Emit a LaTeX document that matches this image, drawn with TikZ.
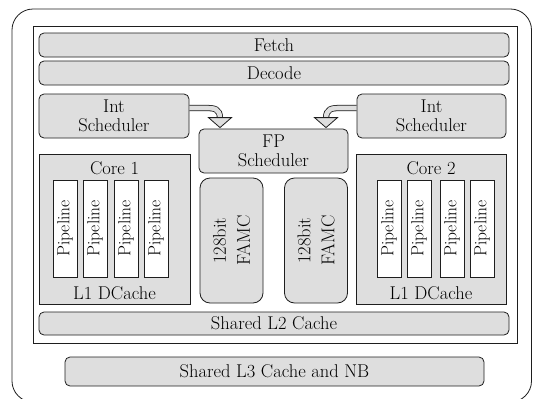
\documentclass[tikz,border=0pt]{standalone}
\usepackage{fontspec}
\setmainfont{Latin Modern Roman}
\usetikzlibrary{calc}
\definecolor{boxgray}{RGB}{222,222,222}
\definecolor{edge}{RGB}{30,30,30}
\tikzset{
  blk/.style={draw=edge, line width=0.8pt, fill=boxgray, rounded corners=5pt, inner sep=0pt,
    font=\fontsize{18.5}{19}\selectfont, align=center},
  corebox/.style={draw=edge, line width=0.8pt, fill=boxgray, inner sep=0pt},
  pipe/.style={draw=edge, line width=0.8pt, fill=white, inner sep=0pt, minimum width=24pt, minimum height=97pt},
  pipetxt/.style={rotate=90, font=\fontsize{17.5}{19}\selectfont, inner sep=0pt},
  famc/.style={blk, rounded corners=10pt, minimum width=63pt, minimum height=125pt},
  lbl/.style={font=\fontsize{18.5}{24}\selectfont, inner sep=0pt},
  shaft/.style={draw=edge, line width=0.8pt, double=boxgray, double distance=4.6pt},
  head/.style={draw=edge, line width=0.8pt, fill=boxgray, line join=miter}
}
\begin{document}
\begin{tikzpicture}[x=1pt, y=-1pt]
\useasboundingbox (0,0) rectangle (533,399);
\clip (0,0) rectangle (533,399);
% outer rounded frame
\draw[edge, line width=0.8pt, rounded corners=21pt] (12,9) rectangle (531.5,402);
% inner frame
\node[draw=edge, line width=0.8pt, fill=white, minimum width=484pt, minimum height=317pt, inner sep=0pt] (chip) at (275,184.5) {};
% bars
\node[blk, minimum width=470pt, minimum height=24pt] (fetch) at (274,45) {Fetch};
\node[blk, minimum width=470pt, minimum height=24pt] (decode) at (274,73) {Decode};
% schedulers
\node[blk, minimum width=150pt, minimum height=44pt] (intL) at (114,116) {Int\\Scheduler};
\node[blk, minimum width=149pt, minimum height=44pt] (intR) at (431.5,116) {Int\\Scheduler};
\node[blk, minimum width=149pt, minimum height=44pt] (fp) at (273.5,151) {FP\\Scheduler};
% cores
\node[corebox, minimum width=151pt, minimum height=150pt] (core1) at (114.5,229) {};
\node[lbl] (c1t) at (114.5,168) {Core 1};
\node[lbl] (c1b) at (114.5,293) {L1 DCache};
\node[corebox, minimum width=150pt, minimum height=150pt] (core2) at (431,229) {};
\node[lbl] (c2t) at (431,168) {Core 2};
\node[lbl] (c2b) at (431,293) {L1 DCache};
% pipelines
\foreach \n/\x in {a/65,b/95,c/126,d/156,e/389,f/419,g/452,h/482}{
  \node[pipe] (p\n) at (\x,228.5) {};
  \node[pipetxt] (pt\n) at (\x,228.5) {Pipeline};
}
% FAMC
\node[famc] (famc1) at (231.5,240.5) {};
\node[lbl, rotate=90, align=center] (f1t) at (231.5,240.5) {128bit\\FAMC};
\node[famc] (famc2) at (316,240.5) {};
\node[lbl, rotate=90, align=center] (f2t) at (316,240.5) {128bit\\FAMC};
% caches
\node[blk, minimum width=470pt, minimum height=23pt] (l2) at (274,323.5) {Shared L2 Cache};
\node[blk, minimum width=419pt, minimum height=29pt] (l3) at (274.5,371.5) {Shared L3 Cache and NB};
% block arrows
\coordinate (aL0) at ([yshift=8pt]intL.east);
\coordinate (tipL) at ([xshift=-53.5pt,yshift=1pt]fp.north);
\draw[shaft] (aL0) -- ++(16,0) .. controls +(9,0) and ($(tipL)+(0,-19)$) .. ($(tipL)+(0,-9)$);
\draw[head] ($(tipL)+(-11.5,-10)$) -- ($(tipL)+(11.5,-10)$) -- (tipL) -- cycle;
\coordinate (aR0) at ([yshift=8pt]intR.west);
\coordinate (tipR) at ([xshift=52.5pt,yshift=1pt]fp.north);
\draw[shaft] (aR0) -- ++(-16,0) .. controls +(-9,0) and ($(tipR)+(0,-19)$) .. ($(tipR)+(0,-9)$);
\draw[head] ($(tipR)+(-11.5,-10)$) -- ($(tipR)+(11.5,-10)$) -- (tipR) -- cycle;
\end{tikzpicture}
\end{document}
